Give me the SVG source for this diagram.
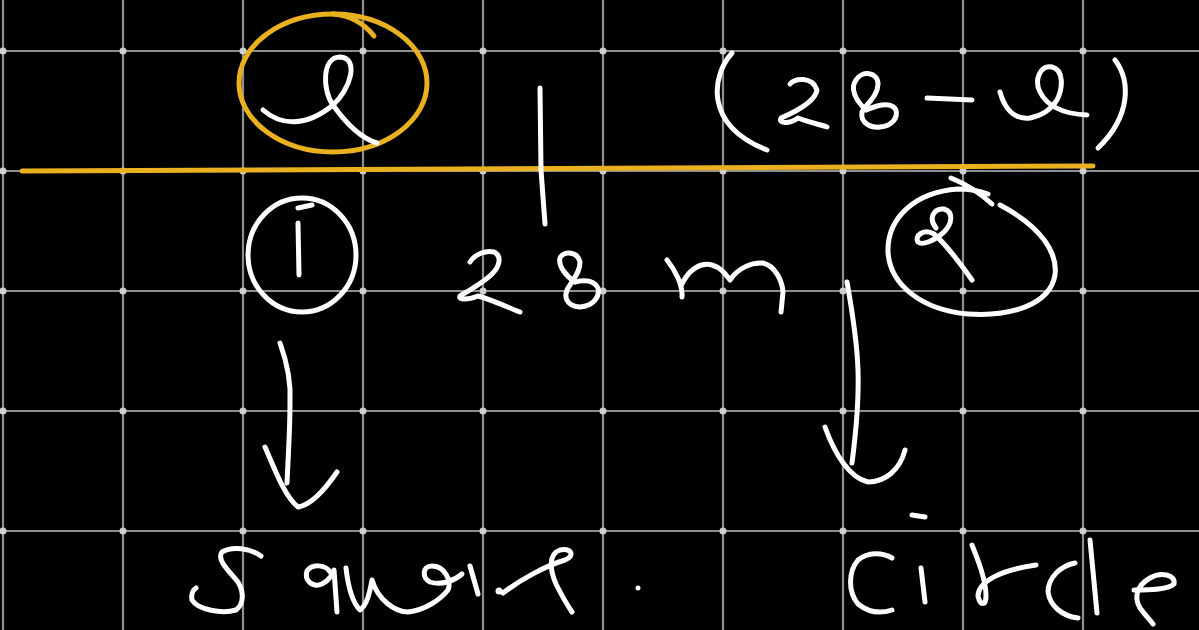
<svg xmlns="http://www.w3.org/2000/svg" width="1199" height="630" viewBox="0 0 1199 630">
<defs>
<style>
.g{stroke:#8f8f8f;stroke-width:2.2}
.d{fill:#cfcfcf}
.w{fill:none;stroke:#fff;stroke-width:5;stroke-linecap:round;stroke-linejoin:round}
.y{fill:none;stroke:#e9b020;stroke-width:5;stroke-linecap:round;stroke-linejoin:round}
</style>
</defs>
<rect width="1199" height="630" fill="#000"/>
<g id="grid">
<path class="g" d="M3,0V630M123,0V630M243,0V630M363,0V630M483,0V630M603,0V630M723,0V630M843,0V630M963,0V630M1083,0V630M0,51H1199M0,171H1199M0,291H1199M0,411H1199M0,531H1199"/>
<g class="d">
<circle cx="3" cy="51" r="3.5"/><circle cx="123" cy="51" r="3.5"/><circle cx="243" cy="51" r="3.5"/><circle cx="363" cy="51" r="3.5"/><circle cx="483" cy="51" r="3.5"/><circle cx="603" cy="51" r="3.5"/><circle cx="723" cy="51" r="3.5"/><circle cx="843" cy="51" r="3.5"/><circle cx="963" cy="51" r="3.5"/><circle cx="1083" cy="51" r="3.5"/>
<circle cx="3" cy="171" r="3.5"/><circle cx="123" cy="171" r="3.5"/><circle cx="243" cy="171" r="3.5"/><circle cx="363" cy="171" r="3.5"/><circle cx="483" cy="171" r="3.5"/><circle cx="603" cy="171" r="3.5"/><circle cx="723" cy="171" r="3.5"/><circle cx="843" cy="171" r="3.5"/><circle cx="963" cy="171" r="3.5"/><circle cx="1083" cy="171" r="3.5"/>
<circle cx="3" cy="291" r="3.5"/><circle cx="123" cy="291" r="3.5"/><circle cx="243" cy="291" r="3.5"/><circle cx="363" cy="291" r="3.5"/><circle cx="483" cy="291" r="3.5"/><circle cx="603" cy="291" r="3.5"/><circle cx="723" cy="291" r="3.5"/><circle cx="843" cy="291" r="3.5"/><circle cx="963" cy="291" r="3.5"/><circle cx="1083" cy="291" r="3.5"/>
<circle cx="3" cy="411" r="3.5"/><circle cx="123" cy="411" r="3.5"/><circle cx="243" cy="411" r="3.5"/><circle cx="363" cy="411" r="3.5"/><circle cx="483" cy="411" r="3.5"/><circle cx="603" cy="411" r="3.5"/><circle cx="723" cy="411" r="3.5"/><circle cx="843" cy="411" r="3.5"/><circle cx="963" cy="411" r="3.5"/><circle cx="1083" cy="411" r="3.5"/>
<circle cx="3" cy="531" r="3.5"/><circle cx="123" cy="531" r="3.5"/><circle cx="243" cy="531" r="3.5"/><circle cx="363" cy="531" r="3.5"/><circle cx="483" cy="531" r="3.5"/><circle cx="603" cy="531" r="3.5"/><circle cx="723" cy="531" r="3.5"/><circle cx="843" cy="531" r="3.5"/><circle cx="963" cy="531" r="3.5"/><circle cx="1083" cy="531" r="3.5"/>
</g>
</g>
<g id="rope">
<path class="y" d="M22,171L1093,166" stroke-width="6"/>
<path class="w" d="M540,88L541,170L545,224"/>
</g>
<g id="x-left">
<ellipse class="y" cx="333" cy="83" rx="94" ry="69"/>
<path class="y" d="M333,14Q358,16 374,36"/>
<path class="w" d="M263,110C280,125 305,128 333,105C350,90 360,58 340,57C322,57 322,90 333,105C345,122 360,138 377,143"/>
</g>
<g id="x-right">
<path class="w" d="M732,53C712,75 703,125 767,150"/>
<path class="w" d="M790,84C795,78 812,76 817,90C815,102 795,112 781,118C778,124 790,124 798,118C808,122 818,124 827,127"/>
<path class="w" d="M866,110C855,100 850,88 856,80C862,70 878,72 878,84C878,96 866,104 862,112C860,124 872,128 880,127C892,126 898,118 896,110C892,102 880,104 866,110"/>
<path class="w" d="M927,98L972,100"/>
<path class="w" d="M1000,92C1005,110 1015,120 1030,118C1045,115 1052,108 1057,100C1063,88 1064,70 1052,67C1040,65 1034,80 1040,92C1048,108 1065,114 1087,115"/>
<path class="w" d="M1115,60C1130,80 1132,115 1098,148"/>
</g>
<g id="node1">
<ellipse class="w" cx="302" cy="255" rx="54" ry="57"/>
<path class="w" d="M298,208L312,205"/>
<path class="w" d="M298,223L299,275"/>
</g>
<g id="length">
<path class="w" d="M470,262C475,254 486,250 494,252C502,256 500,266 492,274C484,282 470,290 460,296C458,300 468,300 478,296C492,300 505,306 520,312"/>
<path class="w" d="M575,282C566,276 558,266 560,258C564,250 578,252 580,262C580,272 574,278 570,285C562,296 566,306 580,307C594,306 600,296 598,288C594,280 584,280 575,282"/>
<path class="w" d="M667,260C675,270 683,285 682,297M681,286C688,270 700,262 712,265C722,268 726,275 730,280C738,268 752,262 763,263C775,266 782,280 783,292L781,312"/>
</g>
<g id="node2">
<path class="w" d="M1000,205C1040,226 1058,252 1055,275C1050,305 1010,317 968,314C922,310 890,285 888,252C887,218 915,192 958,189C970,189 980,191 988,194"/>
<path class="w" d="M951,178C966,184 980,193 992,204"/>
<path class="w" d="M936,228C928,218 934,208 944,209C954,212 952,224 944,232C936,240 922,246 918,242C914,236 924,228 934,234C948,246 962,266 972,280"/>
</g>
<g id="connectors">
<path class="w" d="M280,343C288,365 291,385 290,403C290,430 288,460 287,483"/>
<path class="w" d="M265,447C275,470 285,497 298,507C312,505 326,488 337,472"/>
<path class="w" d="M847,282C852,310 857,340 858,370C859,400 855,440 852,463"/>
<path class="w" d="M825,427C835,455 850,478 868,482C885,482 900,470 905,450"/>
</g>
<g id="square">
<path class="w" d="M261,556C250,548 232,546 222,552C216,560 230,572 238,582C244,592 244,604 236,610C222,614 198,610 192,600C191,594 193,590 196,588"/>
<path class="w" d="M330,572C325,564 312,564 307,571C304,580 312,588 322,584C330,580 334,572 334,570L337,612"/>
<path class="w" d="M346,568C348,586 352,602 360,610C368,604 370,590 372,580C378,600 395,612 408,612C425,610 440,600 448,590C452,580 444,566 432,566C422,566 422,578 430,582C442,586 455,580 462,574"/>
<path class="w" d="M470,566L478,594"/>
<circle cx="499" cy="591" r="3.5" fill="#fff"/>
<path class="w" d="M503,593C520,580 545,566 565,560C575,556 572,548 560,550C548,554 550,570 556,584C562,596 568,606 572,612"/>
<circle cx="638" cy="588" r="2.5" fill="#fff"/>
</g>
<g id="circle">
<path class="w" d="M892,558C882,552 868,552 858,560C848,572 848,592 858,604C868,612 880,614 892,610"/>
<path class="w" d="M912,515L925,517M921,568L925,602"/>
<path class="w" d="M972,545C978,560 986,580 986,596C986,606 980,606 978,596C978,582 1000,570 1036,565"/>
<path class="w" d="M1075,563C1060,566 1048,578 1048,592C1050,606 1062,616 1078,618"/>
<path class="w" d="M1090,540L1097,613"/>
<path class="w" d="M1134,590C1148,590 1168,590 1174,584C1176,574 1160,572 1150,578C1136,586 1134,598 1140,608C1145,615 1150,620 1153,624"/>
</g>
</svg>
